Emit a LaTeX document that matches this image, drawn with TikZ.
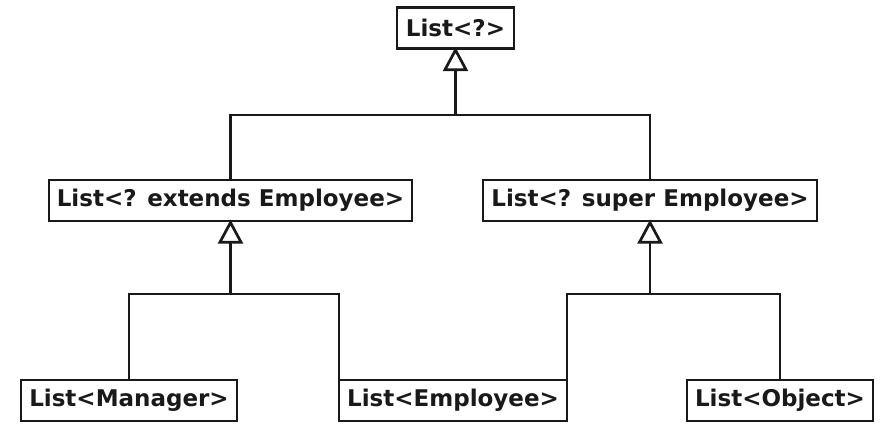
\documentclass[tikz,border=0pt]{standalone}
\usepackage{fontspec}
\setmainfont{DejaVu Sans}
\usetikzlibrary{arrows.meta}
\begin{document}
\begin{tikzpicture}[x=1pt,y=-1pt,
  cls/.style={draw=black!90, line width=2.7pt, fill=white, inner sep=0pt, outer sep=0pt,
    minimum height=41pt, font=\fontsize{23}{27}\selectfont\bfseries, text=black!90},
  wire/.style={draw=black!90, line width=2.7pt, line cap=rect},
  gen/.style={draw=black!90, line width=2.7pt, -{Triangle[open, length=24pt, width=25pt, line width=2.7pt]}}]
\useasboundingbox (0,0) rectangle (896,440);
\node[cls, minimum width=117pt] (top) at (455.5,28) {List<?>};
\node[cls, minimum width=363pt] (ext) at (230.5,200.5) {List<? extends Employee>};
\node[cls, minimum width=334pt] (sup) at (650,200.5) {List<? super Employee>};
\node[cls, minimum width=216pt] (man) at (129,400.5) {List<Manager>};
\node[cls, minimum width=228pt] (emp) at (453,400.5) {List<Employee>};
\node[cls, minimum width=186pt] (obj) at (780,400.5) {List<Object>};
\coordinate (j1) at (455.5,115);
\coordinate (j2) at (230.5,294);
\coordinate (j3) at (650,294);
\draw[gen] (j1) -- ([yshift=1.35pt]top.south);
\draw[wire] (ext.north) |- (j1) -| (sup.north);
\draw[gen] (j2) -- ([yshift=1.35pt]ext.south);
\draw[wire] (man.north) |- (j2) -| (emp.north west);
\draw[gen] (j3) -- ([yshift=1.35pt]sup.south);
\draw[wire] (emp.north east) |- (j3) -| (obj.north);
\end{tikzpicture}
\end{document}
